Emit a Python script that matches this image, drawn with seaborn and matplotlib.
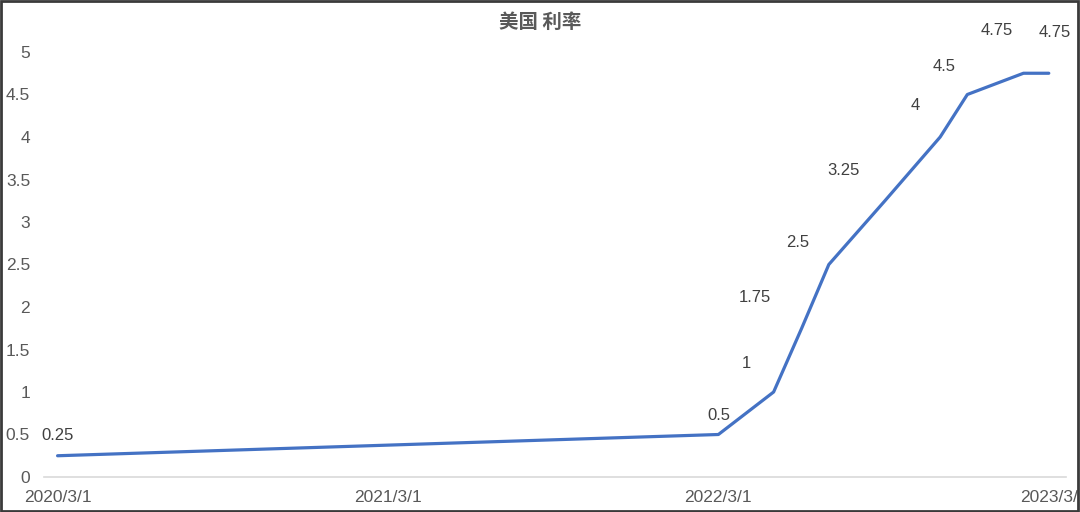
import pandas as pd
import matplotlib.pyplot as plt
import matplotlib.dates as mdates
from matplotlib.patches import Rectangle
import seaborn as sns

# Rate data (first of month)
dates = ['2020-03-01', '2022-03-01', '2022-05-01', '2022-06-01', '2022-07-01',
         '2022-09-01', '2022-11-01', '2022-12-01', '2023-02-01', '2023-03-01']
rates = [0.25, 0.5, 1, 1.75, 2.5, 3.25, 4, 4.5, 4.75, 4.75]
tick_dates = ['2020-03-01', '2021-03-01', '2022-03-01', '2023-03-01']
# the last label is cut by the frame in the original
tick_labels = ['2020/3/1', '2021/3/1', '2022/3/1', '2023/3/']
title = '美国 利率'

# where the data labels sit relative to their points (pixels)
label_offsets = [(0, 20), (0, 19), (-27, 28), (-47, 31), (-31, 22),
                 (-41, 30), (-25, 31), (-23, 28), (-27, 43), (6, 41)]

df = pd.DataFrame({'date': pd.to_datetime(dates), 'rate': rates})

sns.set_style('white')
plt.rcParams['font.family'] = ['Liberation Sans', 'Noto Sans CJK SC', 'DejaVu Sans']

fig = plt.figure(figsize=(10.8, 5.12), dpi=100)
ax = fig.add_axes([44 / 1080, 35 / 512, 1022 / 1080, 425 / 512])

sns.lineplot(data=df, x='date', y='rate', ax=ax, color='#4472C4', linewidth=2.3)

for d, r, (dx, dy) in zip(df['date'], df['rate'], label_offsets):
    ax.annotate(f'{r:g}', (mdates.date2num(d), r), xytext=(dx, dy),
                textcoords='offset pixels', ha='center', va='center',
                fontsize=12, color='#404040', annotation_clip=False)

ax.set_xlim(pd.Timestamp('2020-02-15'), pd.Timestamp('2023-03-20'))
ax.set_ylim(0, 5)
ax.set_yticks([i * 0.5 for i in range(11)])
ax.set_yticklabels([f'{i * 0.5:g}' for i in range(11)])
ax.set_xticks(pd.to_datetime(tick_dates))
ax.set_xticklabels(tick_labels)
ax.tick_params(axis='y', length=0, pad=10, labelsize=12.5, labelcolor='#595959')
ax.tick_params(axis='x', length=0, pad=9, labelsize=12.5, labelcolor='#595959')
ax.set_xlabel('')
ax.set_ylabel('')

for s in ['top', 'right', 'left']:
    ax.spines[s].set_visible(False)
ax.spines['bottom'].set_color('#D9D9D9')
ax.spines['bottom'].set_linewidth(1.2)

fig.text(540 / 1080, 1 - 22 / 512, title, ha='center', va='center', fontsize=14,
         color='#595959', fontweight='bold', family=['Noto Sans CJK SC', 'DejaVu Sans'])

# outer frame
fig.patches.append(Rectangle((0.001, 0.002), 0.997, 0.996, transform=fig.transFigure,
                             fill=False, edgecolor='#3a3a3a', linewidth=2, zorder=10))

fig.savefig('out.png', dpi=100)
